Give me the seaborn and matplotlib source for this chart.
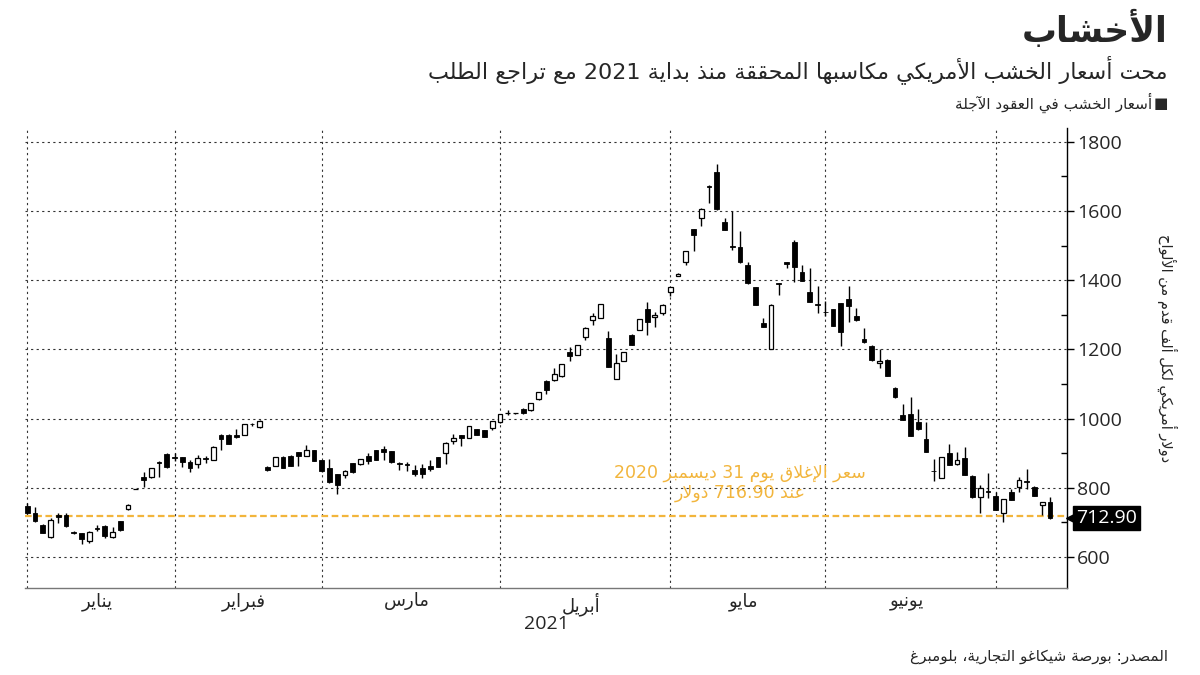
"""
Lumber futures candlestick chart (Arabic labels), Bloomberg style.
"""
import re
import numpy as np
import matplotlib
matplotlib.use("Agg")
import matplotlib.pyplot as plt
import matplotlib.transforms as mtransforms
from matplotlib.ticker import FixedLocator, MultipleLocator, NullFormatter
import seaborn as sns

# ---- data (daily OHLC, USD per 1000 board feet) ----
open_ = [747, 727, 692, 658, 721, 721, 672, 668, 647, 684, 689, 657, 703, 738, 796, 830, 830, 875, 897, 890,
         888, 873, 868, 886, 880, 953, 953, 953, 953, 985, 975, 861, 863, 890, 893, 903, 892, 908, 879, 856,
         840, 837, 871, 868, 893, 909, 912, 905, 870, 868, 851, 856, 864, 888, 900, 936, 951, 945, 970, 967,
         974, 990, 1015, 1015, 1027, 1025, 1056, 1109, 1110, 1122, 1193, 1185, 1235, 1284, 1292, 1232, 1114, 1166, 1242, 1256,
         1316, 1293, 1305, 1365, 1413, 1452, 1548, 1580, 1673, 1713, 1569, 1500, 1496, 1443, 1380, 1276, 1201, 1392, 1452, 1509,
         1423, 1365, 1330, 1309, 1316, 1333, 1346, 1295, 1231, 1211, 1160, 1170, 1089, 1010, 1013, 991, 940, 849, 828, 900,
         868, 885, 835, 774, 790, 777, 726, 789, 801, 819, 803, 750, 758]
high = [756, 745, 694, 712, 728, 728, 676, 669, 676, 691, 692, 686, 705, 752, 797, 844, 857, 877, 899, 900,
        890, 880, 895, 891, 921, 954, 954, 969, 985, 988, 996, 862, 889, 891, 894, 904, 924, 909, 880, 882,
        841, 851, 872, 884, 900, 910, 921, 906, 875, 875, 866, 869, 880, 889, 931, 956, 952, 978, 971, 968,
        994, 1014, 1025, 1016, 1030, 1045, 1077, 1110, 1146, 1158, 1208, 1214, 1264, 1305, 1332, 1252, 1187, 1193, 1243, 1289,
        1338, 1309, 1330, 1380, 1420, 1484, 1549, 1608, 1674, 1736, 1580, 1601, 1541, 1454, 1381, 1290, 1330, 1393, 1454, 1517,
        1444, 1436, 1382, 1341, 1317, 1334, 1384, 1319, 1261, 1212, 1200, 1171, 1090, 1042, 1062, 1027, 989, 882, 889, 927,
        903, 919, 836, 808, 842, 789, 768, 797, 830, 854, 804, 759, 772]
low = [724, 700, 668, 656, 697, 686, 666, 638, 640, 675, 656, 655, 676, 736, 795, 803, 829, 831, 858, 876,
       861, 844, 856, 871, 879, 909, 925, 945, 952, 978, 974, 849, 862, 856, 863, 864, 891, 876, 845, 815,
       781, 827, 843, 866, 869, 879, 880, 872, 851, 847, 835, 829, 847, 860, 869, 927, 921, 944, 952, 946,
       968, 986, 1010, 1014, 1013, 1023, 1054, 1070, 1109, 1121, 1165, 1184, 1228, 1269, 1290, 1149, 1113, 1165, 1212, 1255,
       1242, 1266, 1299, 1353, 1412, 1444, 1483, 1557, 1623, 1604, 1545, 1488, 1451, 1390, 1328, 1265, 1200, 1358, 1435, 1396,
       1397, 1337, 1305, 1295, 1267, 1211, 1280, 1283, 1219, 1167, 1147, 1123, 1060, 995, 949, 968, 903, 818, 827, 865,
       867, 836, 771, 728, 770, 735, 700, 764, 789, 797, 775, 721, 710]
close_ = [727, 703, 669, 707, 714, 688, 669, 651, 671, 682, 660, 671, 678, 749, 796, 823, 856, 871, 860, 887,
          873, 858, 885, 884, 919, 940, 927, 946, 984, 983, 994, 850, 888, 858, 864, 893, 908, 878, 847, 816,
          808, 848, 844, 883, 878, 880, 903, 873, 868, 866, 839, 840, 854, 861, 930, 943, 943, 977, 953, 948,
          993, 1013, 1016, 1015, 1016, 1044, 1076, 1083, 1128, 1157, 1181, 1213, 1263, 1297, 1331, 1150, 1160, 1192, 1214, 1288,
          1280, 1300, 1329, 1379, 1419, 1483, 1531, 1607, 1669, 1605, 1546, 1497, 1452, 1391, 1329, 1266, 1329, 1390, 1447, 1439,
          1398, 1338, 1328, 1307, 1268, 1251, 1326, 1284, 1220, 1168, 1167, 1124, 1061, 996, 950, 969, 904, 847, 888, 866,
          880, 837, 772, 798, 788, 736, 767, 765, 822, 817, 776, 758, 712.9]

# trading days per month, Jan 2021 .. Jul 2021
month_days = [19, 19, 23, 22, 20, 22, 8]
month_names = ["يناير", "فبراير", "مارس", "أبريل", "مايو", "يونيو"]
year_label = "2021"
prev_close = 716.90   # close on 31 Dec 2020
last_close = close_[-1]
y_ticks = [600, 800, 1000, 1200, 1400, 1600, 1800]

TITLE = "الأخشاب"
SUBTITLE = "محت أسعار الخشب الأمريكي مكاسبها المحققة منذ بداية 2021 مع تراجع الطلب"
LEGEND = "أسعار الخشب في العقود الآجلة"
Y_LABEL = "دولار أمريكي لكل ألف قدم من الألواح"
NOTE = ["سعر الإغلاق يوم 31 ديسمبر 2020", "عند 716.90 دولار"]
SOURCE = "المصدر: بورصة شيكاغو التجارية، بلومبرغ"

# ---- minimal Arabic shaping (matplotlib has no bidi / shaping) ----
FORMS = {
    'ء': (0xFE80, 0), 'آ': (0xFE81, 1), 'أ': (0xFE83, 1), 'ؤ': (0xFE85, 1), 'إ': (0xFE87, 1),
    'ئ': (0xFE89, 2), 'ا': (0xFE8D, 1), 'ب': (0xFE8F, 2), 'ة': (0xFE93, 1), 'ت': (0xFE95, 2),
    'ث': (0xFE99, 2), 'ج': (0xFE9D, 2), 'ح': (0xFEA1, 2), 'خ': (0xFEA5, 2), 'د': (0xFEA9, 1),
    'ذ': (0xFEAB, 1), 'ر': (0xFEAD, 1), 'ز': (0xFEAF, 1), 'س': (0xFEB1, 2), 'ش': (0xFEB5, 2),
    'ص': (0xFEB9, 2), 'ض': (0xFEBD, 2), 'ط': (0xFEC1, 2), 'ظ': (0xFEC5, 2), 'ع': (0xFEC9, 2),
    'غ': (0xFECD, 2), 'ف': (0xFED1, 2), 'ق': (0xFED5, 2), 'ك': (0xFED9, 2), 'ل': (0xFEDD, 2),
    'م': (0xFEE1, 2), 'ن': (0xFEE5, 2), 'ه': (0xFEE9, 2), 'و': (0xFEED, 1), 'ى': (0xFEEF, 1),
    'ي': (0xFEF1, 2),
}
LAM_ALEF = {'آ': 0xFEF5, 'أ': 0xFEF7, 'إ': 0xFEF9, 'ا': 0xFEFB}


def shape(text):
    out, i, n = [], 0, len(text)
    while i < n:
        ch = text[i]
        if ch not in FORMS:
            out.append(ch)
            i += 1
            continue
        prev = text[i - 1] if i > 0 else ''
        joins_prev = prev in FORMS and FORMS[prev][1] == 2
        if ch == 'ل' and i + 1 < n and text[i + 1] in LAM_ALEF:
            out.append(chr(LAM_ALEF[text[i + 1]] + int(joins_prev)))
            i += 2
            continue
        base, kind = FORMS[ch]
        nxt = text[i + 1] if i + 1 < n else ''
        joins_next = kind == 2 and nxt in FORMS and FORMS[nxt][1] != 0
        if kind == 0:
            form = base
        elif joins_prev and joins_next:
            form = base + 3
        elif joins_prev:
            form = base + 1
        elif joins_next:
            form = base + 2
        else:
            form = base
        out.append(chr(form))
        i += 1
    return ''.join(out)


def ar(text):
    """Shape and put into visual (left-to-right) order; digit runs stay as is."""
    parts = re.findall(r'[0-9][0-9.]*|[^0-9]+', shape(text))
    return ''.join(p if p[0].isdigit() else p[::-1] for p in reversed(parts))


# ---- style ----
sns.set_style("white")
plt.rcParams['font.family'] = ['DejaVu Sans']
NUM_FONT = ['Open Sans', 'DejaVu Sans']
ORANGE = '#f2b53c'

o = np.array(open_, dtype=float)
h = np.array(high, dtype=float)
l = np.array(low, dtype=float)
c = np.array(close_, dtype=float)
x = np.arange(len(c))
up = c >= o

bounds = np.concatenate([[0], np.cumsum(month_days)])
month_starts = bounds[:-1]
month_mids = (bounds[:-2] + bounds[1:-1] - 1) / 2.0

fig = plt.figure(figsize=(12, 6.75), dpi=100)
ax = fig.add_axes([25 / 1200, 1 - 588 / 675, 1042 / 1200, 460 / 675])

# gridlines
for v in y_ticks:
    ax.axhline(v, color='#333333', lw=0.8, ls=(0, (2, 3)), zorder=0)
for s in month_starts:
    ax.axvline(s, color='#333333', lw=0.8, ls=(0, (2, 3)), zorder=0)

# reference: last close of 2020
ax.axhline(prev_close, color=ORANGE, lw=1.6, ls=(0, (3, 1.6)), zorder=1)

# candles
ax.vlines(x, l, h, color='black', lw=1.0, zorder=2)
ax.bar(x[up], np.maximum(c - o, 0.8)[up], bottom=o[up], width=0.62,
       facecolor='white', edgecolor='black', linewidth=0.9, zorder=3)
ax.bar(x[~up], (o - c)[~up], bottom=c[~up], width=0.62,
       facecolor='black', edgecolor='black', linewidth=0.6, zorder=3)

ax.set_xlim(-0.3, 134.2)
ax.set_ylim(510, 1840)

# axes styling
sns.despine(ax=ax, left=True, top=True, right=False, bottom=False)
ax.spines['right'].set_color('black')
ax.spines['right'].set_linewidth(1.0)
ax.spines['bottom'].set_color('#777777')
ax.spines['bottom'].set_linewidth(1.0)

ax.yaxis.tick_right()
ax.set_yticks(y_ticks)
ax.yaxis.set_minor_locator(MultipleLocator(100))
ax.tick_params(axis='y', which='major', direction='out', length=5, width=1,
               color='black', labelsize=14, pad=2)
ax.tick_params(axis='y', which='minor', direction='in', length=4, width=1, color='black')
for t in ax.get_yticklabels():
    t.set_family(NUM_FONT)

ax.xaxis.set_major_locator(FixedLocator(month_starts))
ax.xaxis.set_major_formatter(NullFormatter())
ax.xaxis.set_minor_locator(FixedLocator(month_mids))
ax.set_xticklabels([ar(m) for m in month_names], minor=True)
ax.tick_params(axis='x', which='major', direction='out', length=5, width=1, color='#777777')
ax.tick_params(axis='x', which='minor', length=0, labelsize=13, pad=3)
ax.text(0.5, -0.058, year_label, transform=ax.transAxes, ha='center', va='top',
        fontsize=14, family=NUM_FONT)

# last price tag
trans = mtransforms.blended_transform_factory(ax.transAxes, ax.transData)
ax.plot([1.0045], [last_close], marker='<', ms=8, color='black', transform=trans, clip_on=False)
ax.text(1.009, last_close, f"{last_close:.2f}", transform=trans, ha='left', va='center',
        color='white', fontsize=14, family=NUM_FONT,
        bbox=dict(boxstyle='square,pad=0.15', fc='black', ec='black'))

# note on the reference line
ax.text(92, 814, ar(NOTE[0]) + "\n" + ar(NOTE[1]), ha='center', va='center',
        color=ORANGE, fontsize=12.5, linespacing=1.15)

# titles & texts
fig.text(1168 / 1200, 1 - 30 / 675, ar(TITLE), ha='right', va='center',
         fontsize=25, fontweight='bold')
fig.text(1168 / 1200, 1 - 70 / 675, ar(SUBTITLE), ha='right', va='center', fontsize=16)
fig.text(1168 / 1200, 1 - 103 / 675, '■', ha='right', va='center', fontsize=11)
fig.text(1152 / 1200, 1 - 103 / 675, ar(LEGEND), ha='right', va='center', fontsize=11)
fig.text(1167 / 1200, 1 - 348 / 675, ar(Y_LABEL), ha='center', va='center',
         rotation=270, fontsize=10.5)
fig.text(1168 / 1200, 1 - 657 / 675, ar(SOURCE), ha='right', va='center', fontsize=11)

fig.savefig('out.png', dpi=100)
